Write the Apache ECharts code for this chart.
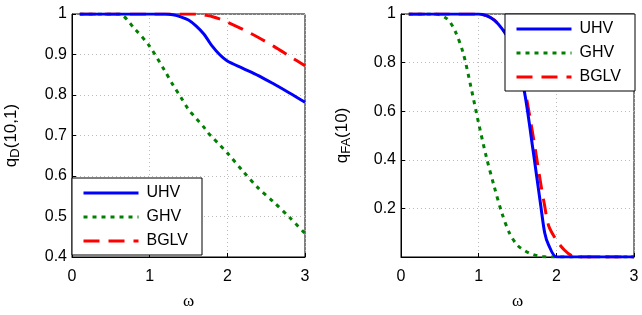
<!DOCTYPE html>
<html>
<head>
<meta charset="utf-8">
<script src="https://cdn.jsdelivr.net/npm/echarts@6/dist/echarts.min.js"></script>
<style>
  html, body { margin: 0; padding: 0; background: #fff; }
  #chart { width: 642px; height: 315px; }
</style>
</head>
<body>
<div id="chart"></div>
<script>
// left panel: q_D(10,1) vs omega
const omegaL = [0.1, 0.6, 0.8, 1.0, 1.2, 1.3, 1.4, 1.5, 1.6, 1.7, 1.75, 1.8, 1.9, 2.0, 2.2, 2.4, 2.6, 2.8, 3.0];
const uhvL = [1, 1, 1, 1, 1, 0.998, 0.993, 0.985, 0.97, 0.95, 0.936, 0.922, 0.9, 0.884, 0.866, 0.848, 0.827, 0.805, 0.782];
const ghvL = [1, 1, 0.965, 0.92, 0.858, 0.825, 0.795, 0.764, 0.742, 0.72, 0.707, 0.697, 0.677, 0.657, 0.612, 0.57, 0.535, 0.498, 0.458];
const bglvL = [1, 1, 1, 1, 1, 1, 1, 1, 1, 0.998, 0.996, 0.994, 0.988, 0.98, 0.962, 0.942, 0.92, 0.896, 0.872];

// right panel: q_FA(10) vs omega
const omegaR = [0.1, 0.45, 0.6, 0.7, 0.8, 0.9, 1.0, 1.1, 1.2, 1.3, 1.4, 1.5, 1.6, 1.7, 1.8, 1.85, 1.9, 2.0, 2.1, 2.2, 2.3, 3.0];
const uhvR = [1, 1, 1, 1, 1, 1, 1, 0.993, 0.975, 0.94, 0.89, 0.82, 0.66, 0.44, 0.21, 0.1, 0.05, 0, 0, 0, 0, 0];
const ghvR = [1, 1, 0.978, 0.927, 0.84, 0.7, 0.55, 0.41, 0.29, 0.18, 0.096, 0.048, 0.025, 0.01, 0.003, 0.001, 0, 0, 0, 0, 0, 0];
const bglvR = [1, 1, 1, 1, 1, 1, 1, 0.993, 0.976, 0.942, 0.892, 0.825, 0.68, 0.5, 0.3, 0.21, 0.13, 0.07, 0.03, 0.005, 0, 0];

const names = ['UHV', 'GHV', 'BGLV'];
const colors = ['#0000ff', '#008000', '#ff0000'];
const dashes = ['solid', [4, 5], [16, 9]];

const myChart = echarts.init(document.getElementById('chart'));

function pairs(xs, ys) {
    return xs.map((x, i) => [x, ys[i]]);
}

function xAxisFor(idx) {
    return {
        gridIndex: idx,
        type: 'value',
        min: 0,
        max: 3,
        interval: 1,
        name: 'ω',
        nameLocation: 'middle',
        nameGap: 36,
        nameTextStyle: { fontFamily: 'Liberation Serif', fontSize: 17, color: '#000' },
        axisLine: { onZero: false, lineStyle: { color: '#000', width: 1 } },
        axisTick: { inside: true, length: 4, lineStyle: { color: '#000' } },
        axisLabel: { color: '#000', fontSize: 16, fontFamily: 'Liberation Sans', margin: 12 },
        splitLine: { show: true, lineStyle: { color: '#bbb', type: [1, 3] } }
    };
}

function yAxisFor(idx, min, interval, nameRich, hideZero) {
    return {
        gridIndex: idx,
        type: 'value',
        min: min,
        max: 1,
        interval: interval,
        name: nameRich,
        nameLocation: 'middle',
        nameRotate: 90,
        nameGap: idx === 0 ? 50 : 48,
        nameTextStyle: {
            fontFamily: 'Liberation Sans', fontSize: 17, color: '#000',
            rich: {
                b: { fontFamily: 'Liberation Sans', fontSize: 17, color: '#000' },
                s: { fontFamily: 'Liberation Sans', fontSize: 13, color: '#000', verticalAlign: 'bottom', padding: [9, 0, 0, 0] }
            }
        },
        axisLine: { show: true, lineStyle: { color: '#000', width: 1 } },
        axisTick: { inside: true, length: 4, lineStyle: { color: '#000' } },
        axisLabel: {
            color: '#000', fontSize: 16, fontFamily: 'Liberation Sans', margin: 5,
            formatter: function (v) {
                if (hideZero && v === 0) return '';
                return String(Math.round(v * 10) / 10);
            }
        },
        splitLine: { show: true, lineStyle: { color: '#bbb', type: [1, 3] } }
    };
}

const series = [];
[[omegaL, [uhvL, ghvL, bglvL]], [omegaR, [uhvR, ghvR, bglvR]]].forEach(function (panel, p) {
    panel[1].forEach(function (ys, i) {
        series.push({
            name: names[i],
            type: 'line',
            xAxisIndex: p,
            yAxisIndex: p,
            showSymbol: false,
            symbol: 'none',
            smooth: 0.3,
            data: pairs(panel[0], ys),
            lineStyle: { color: colors[i], width: 3, type: dashes[i] },
            itemStyle: { color: colors[i] },
            z: i === 0 ? 3 : 2
        });
    });
});

function legendFor(left, top) {
    return {
        data: names,
        orient: 'vertical',
        left: left,
        top: top,
        padding: [7, 14, 6, 10],
        itemGap: 8,
        itemWidth: 55,
        itemHeight: 16,
        backgroundColor: '#fff',
        borderColor: '#000',
        borderWidth: 1,
        itemStyle: { opacity: 0 },
        lineStyle: { width: 3 },
        textStyle: { color: '#000', fontSize: 16, fontFamily: 'Liberation Sans', padding: [0, 0, 0, 3] }
    };
}

const option = {
    animation: false,
    grid: [
        { left: 72, top: 14, width: 233, height: 243, show: true, borderColor: '#000', borderWidth: 1 },
        { left: 401, top: 14, width: 233, height: 243, show: true, borderColor: '#000', borderWidth: 1 }
    ],
    xAxis: [xAxisFor(0), xAxisFor(1)],
    yAxis: [
        yAxisFor(0, 0.4, 0.1, '{b|q}{s|D}{b|(10,1)}', false),
        yAxisFor(1, 0, 0.2, '{b|q}{s|FA}{b|(10)}', true)
    ],
    legend: [legendFor(72, 178), legendFor(505, 14)],
    series: series
};

myChart.setOption(option);
</script>
</body>
</html>
